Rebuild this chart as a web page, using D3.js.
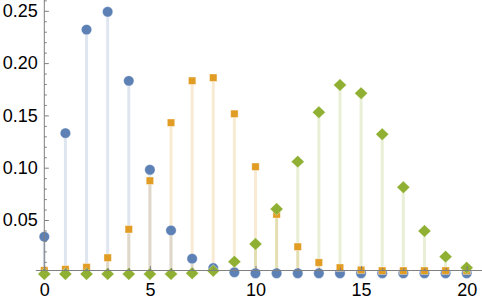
<!DOCTYPE html>
<html>
<head>
<meta charset="utf-8">
<script src="https://cdn.jsdelivr.net/npm/d3@7"></script>
<style>
  body { margin: 0; background: #fff; }
  text { font-family: "Liberation Sans", Arial, sans-serif; }
</style>
</head>
<body>
<svg id="chart" width="482" height="303"></svg>
<script>
(function() {

  // x = 0..20
  var ks = d3.range(0, 21);

  // values
  var blueVals = [0.035, 0.134, 0.233, 0.250, 0.184, 0.099, 0.041, 0.014, 0.005, 0.001,
                  0, 0, 0, 0, 0, 0, 0, 0, 0, 0, 0];
  var orangeVals = [0.0002, 0.0013, 0.0033, 0.0124, 0.0396, 0.086, 0.1415, 0.1816, 0.1845, 0.150,
                    0.0994, 0.0539, 0.0229, 0.0078, 0.0029, 0.0007, 0, 0, 0, 0, 0];
  var greenVals = [0, 0, 0, 0, 0, 0, 0, 0.0007, 0.003, 0.0118,
                   0.0287, 0.0621, 0.1074, 0.1546, 0.1807, 0.1728, 0.1336, 0.0829, 0.0411, 0.0166, 0.006];

  var xTicks = [0, 5, 10, 15, 20];
  var yTicks = [0.05, 0.10, 0.15, 0.20, 0.25];

  var colors = ['#5E81B5', '#E19C24', '#8FB032'];

  var svg = d3.select('#chart');

  var x = d3.scaleLinear().domain([0, 20]).range([44.3, 466.7]);
  var y = d3.scaleLinear().domain([0, 0.25]).range([272.3, 10.8]);
  var originY = y(0.0017);

  var series = [
    { vals: blueVals, color: colors[0], shape: 'circle', dy: 1 },
    { vals: orangeVals, color: colors[1], shape: 'square', dy: -1.6 },
    { vals: greenVals, color: colors[2], shape: 'diamond', dy: 1.7 }
  ];

  // stems (filling to axis)
  series.forEach(function(s) {
    svg.append('g').selectAll('line')
      .data(s.vals)
      .enter().append('line')
      .attr('x1', function(d, i) { return x(ks[i]); })
      .attr('x2', function(d, i) { return x(ks[i]); })
      .attr('y1', originY)
      .attr('y2', function(d) { return Math.min(originY, y(d) + s.dy); })
      .attr('stroke', s.color)
      .attr('stroke-opacity', 0.2)
      .attr('stroke-width', 3);
  });

  // markers
  series.forEach(function(s) {
    var g = svg.append('g');
    var pts = g.selectAll('.pt')
      .data(s.vals)
      .enter();
    if (s.shape === 'circle') {
      pts.append('circle')
        .attr('cx', function(d, i) { return x(ks[i]); })
        .attr('cy', function(d) { return y(d) + s.dy; })
        .attr('r', 5.2)
        .attr('fill', s.color)
        .attr('stroke', '#fff').attr('stroke-opacity', 0.45).attr('stroke-width', 0.8);
    } else if (s.shape === 'square') {
      pts.append('rect')
        .attr('x', function(d, i) { return x(ks[i]) - 3.7; })
        .attr('y', function(d) { return y(d) + s.dy - 3.7; })
        .attr('width', 7.4)
        .attr('height', 7.4)
        .attr('fill', s.color)
        .attr('stroke', '#fff').attr('stroke-opacity', 0.45).attr('stroke-width', 0.8);
    } else {
      pts.append('path')
        .attr('d', function(d, i) {
          var cx = x(ks[i]), cy = y(d) + s.dy;
          return 'M' + (cx - 6.5) + ',' + cy + 'L' + cx + ',' + (cy - 6.2) +
                 'L' + (cx + 6.5) + ',' + cy + 'L' + cx + ',' + (cy + 6.2) + 'Z';
        })
        .attr('fill', s.color)
        .attr('stroke', '#fff').attr('stroke-opacity', 0.45).attr('stroke-width', 0.8);
    }
  });

  var axisColor = '#7f7f7f';

  // axis lines
  svg.append('line')
    .attr('x1', x(-0.4)).attr('x2', 482)
    .attr('y1', originY).attr('y2', originY)
    .attr('stroke', axisColor).attr('stroke-width', 1);
  svg.append('line')
    .attr('x1', x(0)).attr('x2', x(0))
    .attr('y1', 0).attr('y2', originY)
    .attr('stroke', axisColor).attr('stroke-width', 1);

  // x ticks
  var xMinor = svg.append('g')
    .attr('transform', 'translate(0,' + originY + ')')
    .call(d3.axisBottom(x).tickValues(ks.filter(function(k) { return k % 5 !== 0; }))
      .tickSizeInner(-2.5).tickSizeOuter(0).tickFormat(''));
  var xMajor = svg.append('g')
    .attr('transform', 'translate(0,' + originY + ')')
    .call(d3.axisBottom(x).tickValues(xTicks)
      .tickSizeInner(-4.5).tickSizeOuter(0).tickPadding(12.5).tickFormat(d3.format('d')));

  // y ticks
  var yMinorVals = d3.range(1, 27).map(function(i) { return i / 100; })
    .filter(function(v, i) { return (i + 1) % 5 !== 0; });
  var yMinor = svg.append('g')
    .attr('transform', 'translate(' + x(0) + ',0)')
    .call(d3.axisLeft(y).tickValues(yMinorVals)
      .tickSizeInner(-2.5).tickSizeOuter(0).tickFormat(''));
  var yMajor = svg.append('g')
    .attr('transform', 'translate(' + x(0) + ',0)')
    .call(d3.axisLeft(y).tickValues(yTicks)
      .tickSizeInner(-4.5).tickSizeOuter(0).tickPadding(6.5).tickFormat(d3.format('.2f')));

  [xMinor, xMajor, yMinor, yMajor].forEach(function(g) {
    g.select('.domain').remove();
    g.selectAll('line').attr('stroke', axisColor);
    g.selectAll('text')
      .attr('fill', '#000')
      .style('font-size', '18px')
      .style('font-family', '"Liberation Sans", Arial, sans-serif');
  });

})();
</script>
</body>
</html>
